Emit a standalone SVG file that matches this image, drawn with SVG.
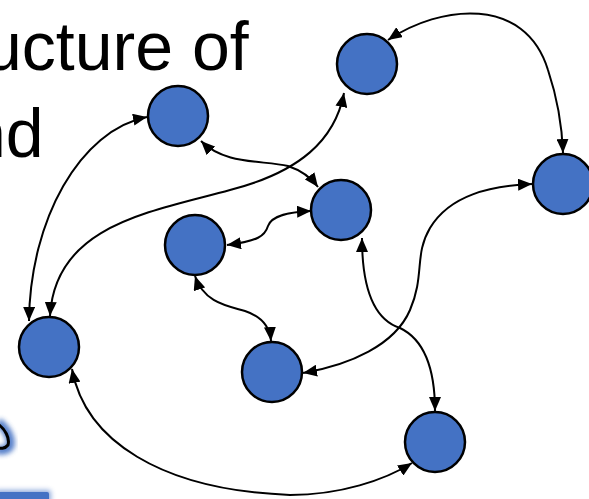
<svg xmlns="http://www.w3.org/2000/svg" width="589" height="499" viewBox="0 0 589 499">
  <style>
    .node { fill: #4472C4; stroke: #000; stroke-width: 2.5; }
    .edge { fill: none; stroke: #000; stroke-width: 2; marker-start: url(#ah); marker-end: url(#ah); }
    .title { font-family: "Liberation Sans", Arial, sans-serif; font-size: 68px; fill: #000; }
  </style>
  <defs>
    <marker id="ah" viewBox="0 0 14 12" refX="14" refY="6" markerWidth="14" markerHeight="12" markerUnits="userSpaceOnUse" orient="auto-start-reverse">
      <path d="M0,0 L14,6 L0,12 z" fill="#000"/>
    </marker>
    <filter id="glow" x="-50%" y="-50%" width="200%" height="200%">
      <feGaussianBlur stdDeviation="2.5"/>
    </filter>
  </defs>
  <rect width="589" height="499" fill="#fff"/>

  <g id="title">
    <text class="title" x="-16" y="70">ucture of</text>
    <text class="title" x="-32" y="157">nd</text>
  </g>

  <g id="fragments">
    <path d="M-2,422 C6,428 12,438 10,446 C7,451 0,451 -4,449" fill="none" stroke="#4472C4" stroke-width="9" filter="url(#glow)" opacity="0.9"/>
    <path d="M-2,424 C5,429 10,438 8,445 C5,449 0,449 -3,447" fill="none" stroke="#000" stroke-width="3"/>
    <rect x="-5" y="490" width="56" height="14" rx="3" fill="#4472C4" filter="url(#glow)" opacity="0.6"/>
    <rect x="-5" y="492" width="54" height="12" rx="2" fill="#4472C4"/>
  </g>

  <g id="connectors">
    <path class="edge" d="M388,40 C440,5 525,-5 548,70 C558,100 562,125 563,153"/>
    <path class="edge" d="M147,117 C80,130 30,220 29,321"/>
    <path class="edge" d="M344,93 C335,140 300,172 230,190 C150,212 55,225 50,316"/>
    <path class="edge" d="M201,141 C225,165 262,160 288,166 C303,171 312,179 318,187"/>
    <path class="edge" d="M227,245 C258,241 265,236 268,226 C272,215 290,212 311,211"/>
    <path class="edge" d="M195,276 C204,303 228,306 245,311 C263,317 270,328 271,341"/>
    <path class="edge" d="M362,238 C362,290 375,320 400,328 C425,340 435,370 435,411"/>
    <path class="edge" d="M303,373 C350,365 395,345 410,310 C425,275 414,255 430,228 C450,195 490,186 532,184"/>
    <path class="edge" d="M72,369 C85,440 160,490 290,495 C340,495 385,480 412,463"/>
  </g>

  <g id="nodeA"><circle class="node" cx="367" cy="64" r="30"/></g>
  <g id="nodeB"><circle class="node" cx="563" cy="184" r="30"/></g>
  <g id="nodeC"><circle class="node" cx="178" cy="116" r="30"/></g>
  <g id="nodeD"><circle class="node" cx="341" cy="210" r="30"/></g>
  <g id="nodeE"><circle class="node" cx="195" cy="245" r="30"/></g>
  <g id="nodeF"><circle class="node" cx="49" cy="347" r="30"/></g>
  <g id="nodeG"><circle class="node" cx="272" cy="372" r="30"/></g>
  <g id="nodeH"><circle class="node" cx="435" cy="442" r="30"/></g>
</svg>
